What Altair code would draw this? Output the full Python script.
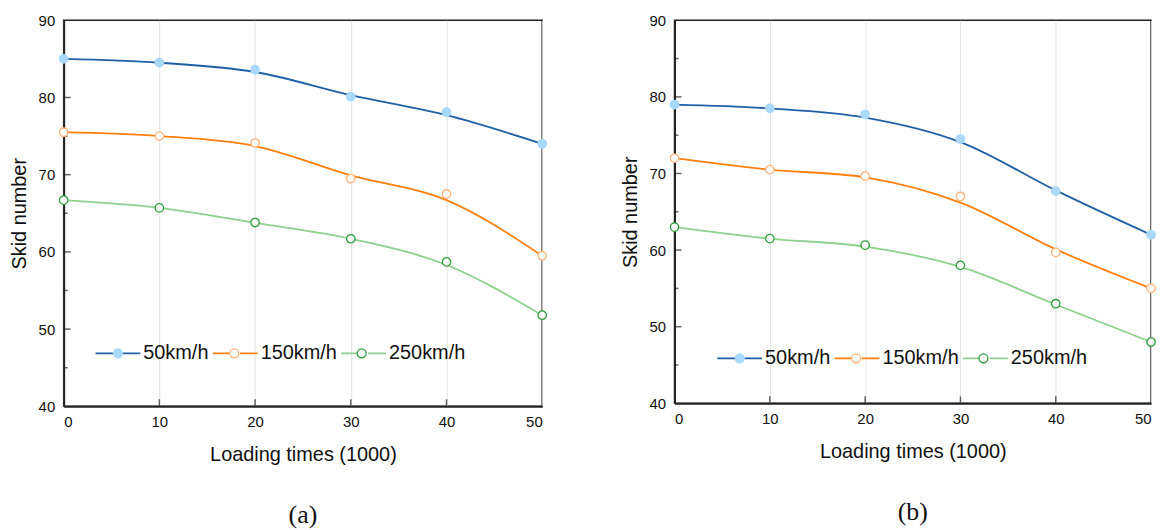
import altair as alt
import pandas as pd

speeds = ["50km/h", "150km/h", "250km/h"]
loading = [0, 10, 20, 30, 40, 50]

# panel (a): measured markers and fitted curve values
a_pts_50 = [85.0, 84.5, 83.6, 80.1, 78.1, 74.0]
a_pts_150 = [75.5, 75.0, 74.1, 69.5, 67.5, 59.5]
a_pts_250 = [66.7, 65.7, 63.8, 61.7, 58.7, 51.8]
a_fit_50 = [85.0, 84.5, 83.3, 80.3, 77.7, 74.0]
a_fit_150 = [75.5, 75.0, 73.7, 69.9, 66.7, 59.5]
a_fit_250 = [66.7, 65.7, 63.75, 61.7, 58.3, 51.8]

# panel (b)
b_pts_50 = [79.0, 78.5, 77.7, 74.5, 67.7, 62.0]
b_pts_150 = [72.0, 70.5, 69.65, 67.0, 59.7, 55.0]
b_pts_250 = [63.0, 61.5, 60.65, 58.0, 53.0, 48.0]
b_fit_50 = [79.0, 78.5, 77.3, 74.1, 67.8, 62.0]
b_fit_150 = [72.0, 70.5, 69.5, 66.2, 60.1, 55.0]
b_fit_250 = [63.0, 61.5, 60.45, 57.8, 52.9, 48.0]

x_ticks = [0, 10, 20, 30, 40, 50]
x_inner_ticks = [10, 20, 30, 40]
y_ticks = [40, 50, 60, 70, 80, 90]
y_inner_major = [50, 60, 70, 80]
y_inner_minor = [45, 55, 65, 75, 85]

line_colors = ["#1f5fa6", "#ff7f0e", "#8dd18d"]
line_widths = [1.8, 1.8, 1.0]
marker_stroke = ["#a8d8fa", "#ffb47e", "#2f9e3c"]
marker_fill = ["#a8d8fa", "#ffffff", "#ffffff"]

LINE_PATH = "M-1,0L-0.2,0M0.2,0L1,0"
# leading moves give the circle symbol the same extent as the line symbol
CIRCLE_PATH = "M-1,0M1,0M0.2,0A0.2,0.2,0,1,1,-0.2,0A0.2,0.2,0,1,1,0.2,0Z"

FONT = "Liberation Sans"
AX = "#222222"


def build(pts, fits, W, H, lx, ly, cap):
    rows = []
    for i, s in enumerate(speeds):
        for j, xv in enumerate(loading):
            rows.append({"loading": xv, "speed": s,
                         "marker": pts[i][j], "curve": fits[i][j]})
    df = pd.DataFrame(rows)
    xs = alt.Scale(domain=[0, 50], nice=False, zero=False)
    ys = alt.Scale(domain=[40, 90], nice=False, zero=False)
    xaxis = alt.Axis(values=x_ticks, title="Loading times (1000)", grid=True,
                     gridColor="#e2e2e2", gridWidth=1, ticks=False, tickSize=0,
                     domainColor=AX, domainWidth=2, labelFontSize=15,
                     titleFontSize=20, labelPadding=8, titlePadding=15,
                     titleFontWeight="normal", labelColor="#111", titleColor="#111",
                     labelFont=FONT, titleFont=FONT)
    yaxis = alt.Axis(values=y_ticks, title="Skid number", grid=False,
                     ticks=False, tickSize=0, domainColor=AX, domainWidth=2,
                     labelFontSize=15, titleFontSize=20, labelPadding=9,
                     titlePadding=9, titleFontWeight="normal", labelColor="#111",
                     titleColor="#111", labelFont=FONT, titleFont=FONT)
    leg = dict(orient="none", legendX=lx, legendY=ly, direction="horizontal",
               title=None, symbolSize=2025, labelFontSize=20, labelOffset=2,
               columnPadding=0, padding=0, labelFont=FONT, labelColor="#111")

    lines = alt.Chart(df).mark_line(interpolate="monotone").encode(
        x=alt.X("loading:Q", scale=xs, axis=xaxis),
        y=alt.Y("curve:Q", scale=ys, axis=yaxis),
        stroke=alt.Stroke("speed:N", scale=alt.Scale(domain=speeds, range=line_colors),
                          legend=alt.Legend(symbolType=LINE_PATH, **leg)),
        strokeWidth=alt.StrokeWidth("speed:N",
                                    scale=alt.Scale(domain=speeds, range=line_widths),
                                    legend=alt.Legend(symbolType=LINE_PATH, **leg)),
    )
    points = alt.Chart(df).mark_point(shape="circle", size=72, opacity=1,
                                      fillOpacity=1, strokeWidth=1.3).encode(
        x=alt.X("loading:Q", scale=xs),
        y=alt.Y("marker:Q", scale=ys),
        stroke=alt.Stroke("speed:N", scale=alt.Scale(domain=speeds, range=marker_stroke),
                          legend=alt.Legend(symbolType=CIRCLE_PATH, labelOpacity=0,
                                            symbolStrokeWidth=1.3, **leg)),
        fill=alt.Fill("speed:N", scale=alt.Scale(domain=speeds, range=marker_fill),
                      legend=alt.Legend(symbolType=CIRCLE_PATH, labelOpacity=0,
                                        symbolStrokeWidth=1.3, **leg)),
    )
    xt = alt.Chart(pd.DataFrame({"t": x_inner_ticks})).mark_tick(
        orient="vertical", size=7, thickness=1.5, color=AX, yOffset=-3.5
    ).encode(x=alt.X("t:Q", scale=xs), y=alt.value(H))
    ytm = alt.Chart(pd.DataFrame({"t": y_inner_major})).mark_tick(
        orient="horizontal", size=7, thickness=1.5, color=AX, xOffset=3.5
    ).encode(y=alt.Y("t:Q", scale=ys), x=alt.value(0))
    ytn = alt.Chart(pd.DataFrame({"t": y_inner_minor})).mark_tick(
        orient="horizontal", size=4, thickness=1.5, color=AX, xOffset=2
    ).encode(y=alt.Y("t:Q", scale=ys), x=alt.value(0))

    return alt.layer(xt, ytm, ytn, lines, points).resolve_scale(
        stroke="independent", fill="independent", strokeWidth="independent"
    ).properties(
        width=W, height=H,
        title=alt.TitleParams(cap, orient="bottom", font="Liberation Serif",
                              fontSize=26, fontWeight="normal", offset=38,
                              frame="group", anchor="middle", color="#111"),
    )


pa = build([a_pts_50, a_pts_150, a_pts_250], [a_fit_50, a_fit_150, a_fit_250],
           481, 388, 31, 311, "(a)")
pb = build([b_pts_50, b_pts_150, b_pts_250], [b_fit_50, b_fit_150, b_fit_250],
           479, 385, 42, 316, "(b)")

chart = alt.hconcat(pa, pb, spacing=69).properties(
    padding={"left": 8, "top": 11, "right": 5, "bottom": 5}
).configure_view(stroke=AX, strokeWidth=1.5)

chart.save("out.html", embed_options={"renderer": "svg", "actions": False})
